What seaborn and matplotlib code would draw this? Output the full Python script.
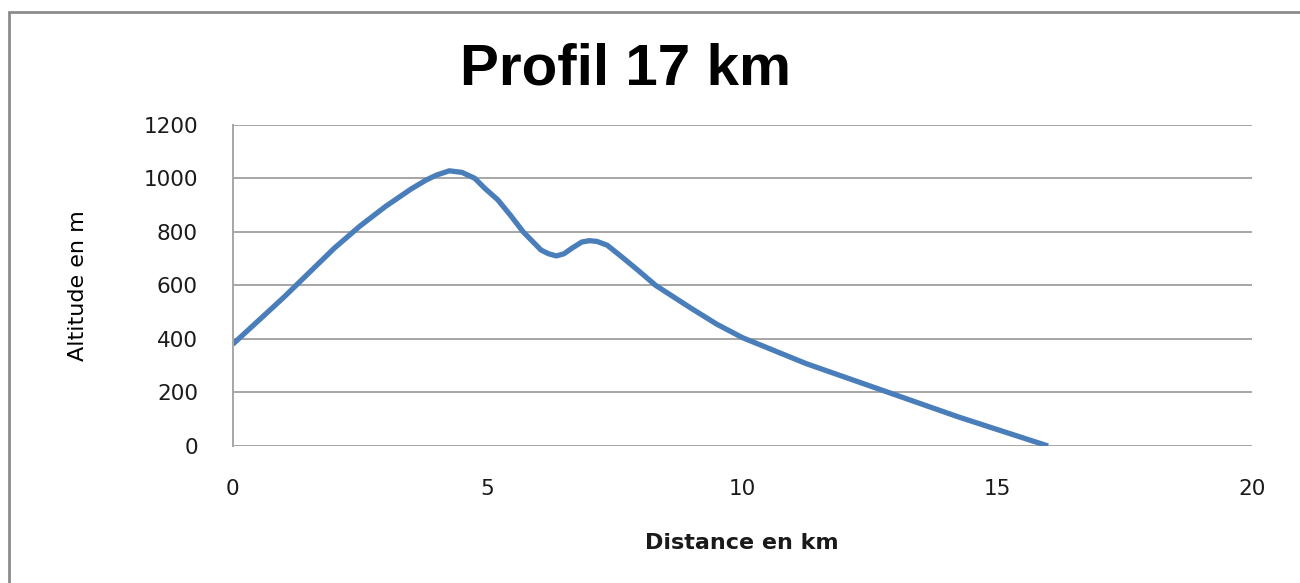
import matplotlib
matplotlib.use("Agg")
import matplotlib.pyplot as plt
import seaborn as sns
import pandas as pd
from matplotlib.patches import Rectangle

# values
distance_km = [0, 1, 2, 2.5, 3, 3.5, 3.8, 4, 4.25, 4.5, 4.75, 4.95, 5.2, 5.45,
               5.7, 6.05, 6.2, 6.35, 6.5, 6.65, 6.85, 7.0, 7.15, 7.35, 7.65,
               7.95, 8.3, 9.0, 9.5, 10, 11.25, 12.9, 14.25, 16]
altitude_m = [380, 555, 740, 822, 895, 960, 994, 1012, 1028, 1022, 1000, 962,
              920, 862, 800, 732, 718, 710, 718, 738, 762, 767, 764, 750, 704,
              657, 600, 514, 455, 405, 308, 198, 108, 0]
x_ticks = [0, 5, 10, 15, 20]
y_ticks = [0, 200, 400, 600, 800, 1000, 1200]

title = "Profil 17 km"
x_label = "Distance en km"
y_label = "Altitude en m"

line_color = "#4A7EBB"
grid_color = "#A6A6A6"
text_color = "#1a1a1a"

sns.set_style("white")
plt.rcParams['font.family'] = ['DejaVu Sans']

df = pd.DataFrame({"distance": distance_km, "altitude": altitude_m})

fig, ax = plt.subplots(figsize=(13, 5.83), dpi=100)
fig.subplots_adjust(left=0.179, right=0.963, bottom=0.235, top=0.786)

sns.lineplot(data=df, x="distance", y="altitude", ax=ax, color=line_color,
             linewidth=3.8, solid_capstyle="butt", solid_joinstyle="round")

ax.set_xlim(0, 20)
ax.set_ylim(0, 1200)
ax.set_xticks(x_ticks)
ax.set_yticks(y_ticks)
ax.tick_params(axis="both", length=0, labelsize=15.5, colors=text_color)
ax.tick_params(axis="y", pad=25)
ax.tick_params(axis="x", pad=24)

ax.grid(axis="y", color=grid_color, linewidth=1.4)
ax.set_axisbelow(True)
for side in ["top", "right", "bottom"]:
    ax.spines[side].set_visible(False)
ax.spines["left"].set_color(grid_color)
ax.spines["left"].set_linewidth(1.4)

ax.set_xlabel(x_label, fontsize=16, fontweight="bold", color=text_color)
ax.set_ylabel(y_label, fontsize=16, fontweight="medium", color="black")
ax.xaxis.set_label_coords(0.5, -0.27)
ax.yaxis.set_label_coords(-0.142, 0.5)

fig.text(0.481, 0.88, title, ha="center", va="center", fontsize=42,
         fontweight="bold", color="black",
         family=["Liberation Sans", "DejaVu Sans"])

# outer chart border
fig.patches.append(Rectangle((9 / 1300, -0.05), 1.1, 1.05 - 12 / 583,
                             transform=fig.transFigure, fill=False,
                             edgecolor="#8C8C8C", linewidth=2, zorder=0))

fig.savefig("out.png", dpi=100)
